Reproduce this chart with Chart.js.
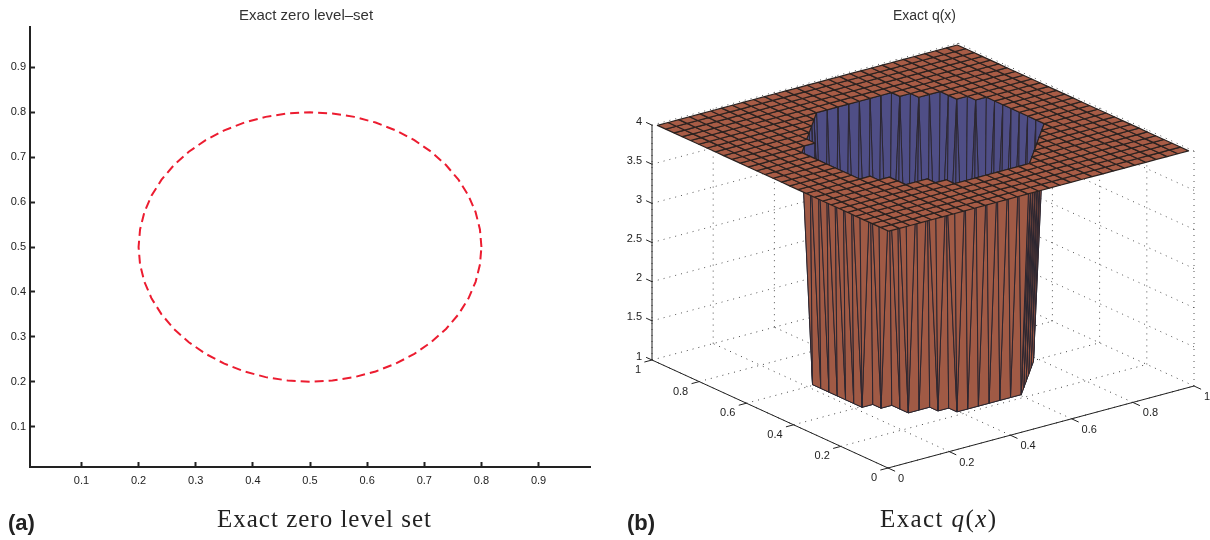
<!DOCTYPE html>
<html>
<head>
<meta charset="utf-8">
<title>Exact zero level set and exact q(x)</title>
<script src="https://cdn.jsdelivr.net/npm/chart.js@4"></script>
<style>
    html, body { margin: 0; padding: 0; background: #fff; }
    #page { position: relative; width: 1210px; height: 540px; overflow: hidden; }
    .panel { position: absolute; top: 0; height: 540px; }
    .tag { position: absolute; top: 510px; font: bold 22px "Liberation Sans", sans-serif; color: #222; }
    .caption { position: absolute; top: 505px; font: 25px "Liberation Serif", serif; letter-spacing: 1px; color: #222; white-space: nowrap; }
</style>
</head>
<body>
<div id="page">
    <div class="panel" style="left:0;width:612px"><canvas id="levelSet" width="612" height="540"></canvas></div>
    <div class="panel" style="left:624px;width:586px"><canvas id="surface" width="586" height="540"></canvas></div>
    <div class="tag" style="left:8px">(a)</div>
    <div class="caption" style="left:217px">Exact zero level set</div>
    <div class="tag" style="left:627px">(b)</div>
    <div class="caption" style="left:880px;letter-spacing:1.4px">Exact <i>q</i>(<i>x</i>)</div>
</div>
<script>
// panel (a): zero level set
const levelTicks = [0.1, 0.2, 0.3, 0.4, 0.5, 0.6, 0.7, 0.8, 0.9];
const contourX = [0.8, 0.7974, 0.7898, 0.7772, 0.7598, 0.738, 0.7121, 0.6826, 0.65, 0.6148, 0.5776, 0.5392, 0.5,
    0.4608, 0.4224, 0.3852, 0.35, 0.3174, 0.2879, 0.262, 0.2402, 0.2228, 0.2102, 0.2026, 0.2,
    0.2026, 0.2102, 0.2228, 0.2402, 0.262, 0.2879, 0.3174, 0.35, 0.3852, 0.4224, 0.4608, 0.5,
    0.5392, 0.5776, 0.6148, 0.65, 0.6826, 0.7121, 0.738, 0.7598, 0.7772, 0.7898, 0.7974, 0.8];
const contourY = [0.5, 0.5392, 0.5776, 0.6148, 0.65, 0.6826, 0.7121, 0.738, 0.7598, 0.7772, 0.7898, 0.7974, 0.8,
    0.7974, 0.7898, 0.7772, 0.7598, 0.738, 0.7121, 0.6826, 0.65, 0.6148, 0.5776, 0.5392, 0.5,
    0.4608, 0.4224, 0.3852, 0.35, 0.3174, 0.2879, 0.262, 0.2402, 0.2228, 0.2102, 0.2026, 0.2,
    0.2026, 0.2102, 0.2228, 0.2402, 0.262, 0.2879, 0.3174, 0.35, 0.3852, 0.4224, 0.4608, 0.5];

// panel (b): surface q(x), nodes along each side and the hole (q = 1) per row
const gridNodes = [0.01, 0.045, 0.08, 0.115, 0.15, 0.185, 0.22, 0.255, 0.29, 0.325, 0.36, 0.395, 0.43, 0.465, 0.5,
    0.535, 0.57, 0.605, 0.64, 0.675, 0.71, 0.745, 0.78, 0.815, 0.85, 0.885, 0.92, 0.955, 0.99];
const holeFirstRow = 6;
const holeFirst = [11, 10, 8, 8, 7, 6, 6, 6, 6, 6, 6, 6, 8, 8, 9, 10, 11];
const holeLast = [17, 18, 19, 20, 21, 22, 22, 22, 22, 22, 22, 22, 21, 20, 20, 18, 17];
const qOutside = 4;
const qInside = 1;
const xyTicks = [0, 0.2, 0.4, 0.6, 0.8, 1];
const zTicks = [1, 1.5, 2, 2.5, 3, 3.5, 4];

const plateBrown = '#a85c46';
const wallBrown = '#a05a45';
const wallBlue = '#4f4e86';
const meshDark = '#2a2220';

// view of the 3D box on the plane of the chart
function project(x, y, z) {
    return {
        x: 888 + 306 * x - 236 * y,
        y: 468 - 82 * x - 108 * y - 78.3 * (z - 1)
    };
}

function qAt(i, j) {
    const r = j - holeFirstRow;
    if (r >= 0 && r < holeFirst.length && i >= holeFirst[r] && i <= holeLast[r]) return qInside;
    return qOutside;
}

function node(i, j) {
    return { x: gridNodes[i], y: gridNodes[j], z: qAt(i, j) };
}

function polyDataset(nodes, fillColor, edgeColor, edgeWidth) {
    const pts = nodes.map(n => project(n.x, n.y, n.z));
    pts.push(pts[0]);
    return {
        data: pts,
        showLine: true,
        fill: 'shape',
        backgroundColor: fillColor,
        borderColor: edgeColor,
        borderWidth: edgeWidth,
        borderJoinStyle: 'round',
        pointRadius: 0
    };
}

function lineDataset(a, b, color, width, dash) {
    return {
        data: [project(a[0], a[1], a[2]), project(b[0], b[1], b[2])],
        showLine: true,
        fill: false,
        borderColor: color,
        borderWidth: width,
        borderDash: dash || [],
        pointRadius: 0
    };
}

// true when the triangle shows the same side as the flat plate
function facesUp(t) {
    const a = project(t[0].x, t[0].y, t[0].z);
    const b = project(t[1].x, t[1].y, t[1].z);
    const c = project(t[2].x, t[2].y, t[2].z);
    return (b.x - a.x) * (c.y - a.y) - (b.y - a.y) * (c.x - a.x) < 0;
}

function buildSurface() {
    const back = [];
    const dots = [1.5, 2, 2.5, 3, 3.5, 4];
    xyTicks.forEach(t => {
        back.push(lineDataset([t, 0, 1], [t, 1, 1], '#444', 1, [1, 5]));
        back.push(lineDataset([0, t, 1], [1, t, 1], '#444', 1, [1, 5]));
        back.push(lineDataset([t, 1, 1], [t, 1, 4], '#555', 1, [1, 5]));
        back.push(lineDataset([1, t, 1], [1, t, 4], '#555', 1, [1, 5]));
    });
    dots.forEach(z => {
        back.push(lineDataset([0, 1, z], [1, 1, z], '#555', 1, [1, 5]));
        back.push(lineDataset([1, 0, z], [1, 1, z], '#555', 1, [1, 5]));
    });

    const floor = [];
    const walls = [];
    const plate = [];
    for (let j = 0; j < gridNodes.length - 1; j++) {
        for (let i = 0; i < gridNodes.length - 1; i++) {
            const a = node(i, j), b = node(i + 1, j), c = node(i + 1, j + 1), d = node(i, j + 1);
            if (a.z === qOutside && b.z === qOutside && c.z === qOutside && d.z === qOutside) {
                plate.push(polyDataset([a, b, c, d], plateBrown, meshDark, 1.2));
                continue;
            }
            [[a, b, c], [a, c, d]].forEach(t => {
                const zs = t.map(n => n.z);
                if (zs.every(z => z === qOutside)) {
                    plate.push(polyDataset(t, plateBrown, meshDark, 1.2));
                } else if (zs.every(z => z === qInside)) {
                    floor.push(polyDataset(t, wallBrown, meshDark, 1));
                } else {
                    const depth = t.reduce((s, n) => s + 236 * n.x + 306 * n.y, 0);
                    const ds = polyDataset(t, facesUp(t) ? wallBlue : wallBrown, '#2b2630', 1);
                    walls.push({ depth, ds });
                }
            });
        }
    }
    walls.sort((p, q) => q.depth - p.depth);

    const axes = [
        lineDataset([0, 0, 1], [1, 0, 1], '#222', 1),
        lineDataset([0, 0, 1], [0, 1, 1], '#222', 1),
        lineDataset([0, 1, 1], [0, 1, 4], '#222', 1)
    ];
    xyTicks.forEach(t => {
        axes.push(lineDataset([t, 0, 1], [t, -0.03, 1], '#222', 1));
        axes.push(lineDataset([0, t, 1], [-0.025, t, 1], '#222', 1));
    });
    zTicks.forEach(z => axes.push(lineDataset([0, 1, z], [0, 1.025, z], '#222', 1)));

    // painter's order, Chart.js draws the last dataset first
    return back.concat(axes, floor, walls.map(w => w.ds), plate).reverse();
}

const labels3d = {
    id: 'labels3d',
    afterDatasetsDraw(chart) {
        const ctx = chart.ctx;
        const sx = chart.scales.x, sy = chart.scales.y;
        function put(text, p, dx, dy, align) {
            ctx.textAlign = align;
            ctx.fillText(text, sx.getPixelForValue(p.x) + dx, sy.getPixelForValue(p.y) + dy);
        }
        ctx.save();
        ctx.font = '11px "Liberation Sans", sans-serif';
        ctx.fillStyle = '#222';
        ctx.textBaseline = 'middle';
        xyTicks.forEach(t => {
            put(String(t), project(t, 0, 1), 10, 11, 'left');
            put(String(t), project(0, t, 1), -11, 10, 'right');
        });
        zTicks.forEach(z => put(String(z), project(0, 1, z), -10, -3.5, 'right'));
        ctx.restore();
    }
};

// the y labels sit left of the padding, so the scale box has to reach the canvas edge
const labelRoom = {
    id: 'labelRoom',
    afterLayout(chart) {
        chart.scales.y.left = 0;
    }
};

Chart.defaults.animation = false;
Chart.defaults.font.family = '"Liberation Sans", sans-serif';
Chart.defaults.color = '#222';

function titleOptions(text, size, top, bottom) {
    return {
        display: true,
        text: text,
        color: '#333',
        font: { size: size, weight: 'normal', lineHeight: 1.2 },
        padding: { top: top, bottom: bottom }
    };
}

new Chart(document.getElementById('levelSet'), {
    type: 'scatter',
    data: {
        datasets: [{
            data: contourX.map((x, i) => ({ x: x, y: contourY[i] })),
            showLine: true,
            borderColor: '#ec1c30',
            borderWidth: 2,
            borderDash: [9, 5],
            pointRadius: 0
        }]
    },
    plugins: [labelRoom],
    options: {
        responsive: false,
        events: [],
        layout: { padding: { left: 22, right: 22 } },
        plugins: { legend: { display: false }, tooltip: { enabled: false }, title: titleOptions('Exact zero level–set', 15, 7, 2) },
        scales: {
            x: {
                type: 'linear', min: 0.01, max: 0.99,
                afterBuildTicks: s => { s.ticks = levelTicks.map(v => ({ value: v })); },
                afterFit: s => { s.height = 73; },
                border: { color: '#222', width: 2 },
                grid: { drawOnChartArea: false, tickLength: -5, tickWidth: 2, tickColor: '#222' },
                ticks: { padding: 12, maxRotation: 0, autoSkip: false, font: { size: 11 }, callback: v => v.toFixed(1) }
            },
            y: {
                type: 'linear', min: 0.01, max: 0.99,
                afterBuildTicks: s => { s.ticks = levelTicks.map(v => ({ value: v })); },
                afterFit: s => { s.width = 8; },
                border: { color: '#222', width: 2 },
                grid: { drawOnChartArea: false, tickLength: -5, tickWidth: 2, tickColor: '#222' },
                ticks: { padding: 9, autoSkip: false, font: { size: 11 }, callback: v => v.toFixed(1) }
            }
        }
    }
});

new Chart(document.getElementById('surface'), {
    type: 'scatter',
    data: { datasets: buildSurface() },
    plugins: [labels3d],
    options: {
        responsive: false,
        events: [],
        layout: { padding: { left: 15 } },
        plugins: { legend: { display: false }, tooltip: { enabled: false }, title: titleOptions('Exact q(x)', 14, 7.6, 2.6) },
        scales: {
            x: { type: 'linear', display: false, min: 639, max: 1210 },
            y: { type: 'linear', display: false, min: 27, max: 540, reverse: true }
        }
    }
});
</script>
</body>
</html>
